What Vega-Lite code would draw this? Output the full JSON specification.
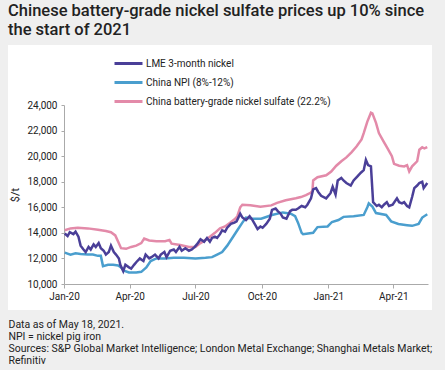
{
  "$schema": "https://vega.github.io/schema/vega-lite/v6.json",
  "width": 424,
  "height": 265,
  "autosize": "none",
  "padding": {"left": 8, "top": 45, "right": 13, "bottom": 60},
  "background": "#efefef",
  "view": {"fill": "white", "stroke": null},
  "config": {"font": "Roboto"},
  "title": {
    "text": ["Chinese battery-grade nickel sulfate prices up 10% since", "the start of 2021"],
    "anchor": "start",
    "frame": "group",
    "font": "Roboto",
    "fontSize": 16.5,
    "fontWeight": 500,
    "color": "#222222",
    "lineHeight": 19,
    "offset": 7
  },
  "datasets": {
    "lme": [
      {"date": "2020-01-02", "price": 13950}, {"date": "2020-01-06", "price": 13750}, {"date": "2020-01-09", "price": 14050},
      {"date": "2020-01-14", "price": 13900}, {"date": "2020-01-17", "price": 14100}, {"date": "2020-01-21", "price": 13700},
      {"date": "2020-01-24", "price": 13000}, {"date": "2020-01-28", "price": 12700}, {"date": "2020-01-31", "price": 12500},
      {"date": "2020-02-04", "price": 12900}, {"date": "2020-02-07", "price": 12700}, {"date": "2020-02-11", "price": 13100},
      {"date": "2020-02-14", "price": 12900}, {"date": "2020-02-18", "price": 13200}, {"date": "2020-02-21", "price": 12800},
      {"date": "2020-02-25", "price": 12600}, {"date": "2020-02-28", "price": 12300}, {"date": "2020-03-03", "price": 12500},
      {"date": "2020-03-06", "price": 13000}, {"date": "2020-03-10", "price": 12500}, {"date": "2020-03-13", "price": 12300},
      {"date": "2020-03-17", "price": 12000}, {"date": "2020-03-19", "price": 11500}, {"date": "2020-03-23", "price": 11000},
      {"date": "2020-03-26", "price": 11500}, {"date": "2020-03-31", "price": 11300}, {"date": "2020-04-03", "price": 11200},
      {"date": "2020-04-07", "price": 11500}, {"date": "2020-04-10", "price": 11700}, {"date": "2020-04-15", "price": 12000},
      {"date": "2020-04-20", "price": 11800}, {"date": "2020-04-23", "price": 12300}, {"date": "2020-04-28", "price": 12000},
      {"date": "2020-05-01", "price": 12100}, {"date": "2020-05-06", "price": 12300}, {"date": "2020-05-11", "price": 12000},
      {"date": "2020-05-14", "price": 12300}, {"date": "2020-05-19", "price": 12500}, {"date": "2020-05-22", "price": 12100},
      {"date": "2020-05-27", "price": 12600}, {"date": "2020-06-01", "price": 12700}, {"date": "2020-06-04", "price": 12500},
      {"date": "2020-06-09", "price": 12900}, {"date": "2020-06-12", "price": 12600}, {"date": "2020-06-17", "price": 12800},
      {"date": "2020-06-22", "price": 12600}, {"date": "2020-06-26", "price": 12700}, {"date": "2020-06-30", "price": 12900},
      {"date": "2020-07-03", "price": 13100}, {"date": "2020-07-08", "price": 13500}, {"date": "2020-07-13", "price": 13300},
      {"date": "2020-07-17", "price": 13600}, {"date": "2020-07-21", "price": 13300}, {"date": "2020-07-24", "price": 13600},
      {"date": "2020-07-28", "price": 13700}, {"date": "2020-07-31", "price": 13600}, {"date": "2020-08-04", "price": 13900},
      {"date": "2020-08-07", "price": 14200}, {"date": "2020-08-11", "price": 14100}, {"date": "2020-08-14", "price": 14400},
      {"date": "2020-08-19", "price": 14700}, {"date": "2020-08-24", "price": 14800}, {"date": "2020-08-27", "price": 14900},
      {"date": "2020-09-01", "price": 15500}, {"date": "2020-09-04", "price": 15200}, {"date": "2020-09-09", "price": 15000},
      {"date": "2020-09-14", "price": 15300}, {"date": "2020-09-18", "price": 15000}, {"date": "2020-09-22", "price": 14600},
      {"date": "2020-09-25", "price": 14300}, {"date": "2020-09-29", "price": 14500}, {"date": "2020-10-02", "price": 14400},
      {"date": "2020-10-07", "price": 14700}, {"date": "2020-10-12", "price": 15100}, {"date": "2020-10-15", "price": 15800},
      {"date": "2020-10-20", "price": 15900}, {"date": "2020-10-23", "price": 15700}, {"date": "2020-10-27", "price": 15500},
      {"date": "2020-10-30", "price": 15200}, {"date": "2020-11-04", "price": 15100}, {"date": "2020-11-09", "price": 15700},
      {"date": "2020-11-12", "price": 15800}, {"date": "2020-11-17", "price": 15800}, {"date": "2020-11-20", "price": 15900},
      {"date": "2020-11-25", "price": 16100}, {"date": "2020-11-30", "price": 16000}, {"date": "2020-12-03", "price": 16200},
      {"date": "2020-12-08", "price": 16700}, {"date": "2020-12-11", "price": 17400}, {"date": "2020-12-15", "price": 17500},
      {"date": "2020-12-18", "price": 17200}, {"date": "2020-12-22", "price": 16900}, {"date": "2020-12-29", "price": 16700},
      {"date": "2021-01-04", "price": 17100}, {"date": "2021-01-07", "price": 17600}, {"date": "2021-01-11", "price": 17000},
      {"date": "2021-01-14", "price": 18100}, {"date": "2021-01-19", "price": 18300}, {"date": "2021-01-22", "price": 18100},
      {"date": "2021-01-26", "price": 17900}, {"date": "2021-02-01", "price": 17700}, {"date": "2021-02-05", "price": 18100},
      {"date": "2021-02-10", "price": 18400}, {"date": "2021-02-15", "price": 18700}, {"date": "2021-02-19", "price": 18900},
      {"date": "2021-02-22", "price": 19700}, {"date": "2021-02-25", "price": 19300}, {"date": "2021-03-01", "price": 19200},
      {"date": "2021-03-04", "price": 16400}, {"date": "2021-03-09", "price": 16100}, {"date": "2021-03-12", "price": 16200},
      {"date": "2021-03-16", "price": 16000}, {"date": "2021-03-19", "price": 16200}, {"date": "2021-03-23", "price": 16400},
      {"date": "2021-03-26", "price": 16100}, {"date": "2021-03-31", "price": 16200}, {"date": "2021-04-06", "price": 16700},
      {"date": "2021-04-09", "price": 16400}, {"date": "2021-04-13", "price": 16300}, {"date": "2021-04-16", "price": 16400},
      {"date": "2021-04-20", "price": 16100}, {"date": "2021-04-23", "price": 16000}, {"date": "2021-04-27", "price": 16800},
      {"date": "2021-04-30", "price": 17500}, {"date": "2021-05-04", "price": 17700}, {"date": "2021-05-07", "price": 17900},
      {"date": "2021-05-11", "price": 18000}, {"date": "2021-05-13", "price": 17500}, {"date": "2021-05-18", "price": 17900}
    ],
    "npi": [
      {"date": "2020-01-02", "price": 12450}, {"date": "2020-01-10", "price": 12300}, {"date": "2020-01-17", "price": 12400},
      {"date": "2020-01-24", "price": 12350}, {"date": "2020-02-03", "price": 12300}, {"date": "2020-02-10", "price": 12300},
      {"date": "2020-02-17", "price": 12200}, {"date": "2020-02-21", "price": 12200}, {"date": "2020-02-24", "price": 11400},
      {"date": "2020-03-02", "price": 11500}, {"date": "2020-03-09", "price": 11500}, {"date": "2020-03-16", "price": 11450},
      {"date": "2020-03-20", "price": 11300}, {"date": "2020-03-24", "price": 11050}, {"date": "2020-03-31", "price": 10900},
      {"date": "2020-04-10", "price": 10900}, {"date": "2020-04-17", "price": 10950}, {"date": "2020-04-24", "price": 11300},
      {"date": "2020-04-30", "price": 11800}, {"date": "2020-05-08", "price": 12000}, {"date": "2020-05-20", "price": 12000},
      {"date": "2020-06-01", "price": 12050}, {"date": "2020-06-15", "price": 12050}, {"date": "2020-07-01", "price": 12000},
      {"date": "2020-07-15", "price": 12050}, {"date": "2020-07-24", "price": 12100}, {"date": "2020-07-31", "price": 12300},
      {"date": "2020-08-07", "price": 12500}, {"date": "2020-08-14", "price": 13000}, {"date": "2020-08-21", "price": 13600},
      {"date": "2020-08-28", "price": 14200}, {"date": "2020-09-04", "price": 14800}, {"date": "2020-09-09", "price": 15200},
      {"date": "2020-09-18", "price": 15100}, {"date": "2020-09-30", "price": 15100}, {"date": "2020-10-15", "price": 15400},
      {"date": "2020-10-30", "price": 15600}, {"date": "2020-11-10", "price": 15500}, {"date": "2020-11-16", "price": 15300},
      {"date": "2020-11-20", "price": 14800}, {"date": "2020-11-25", "price": 14000}, {"date": "2020-11-27", "price": 13900},
      {"date": "2020-12-04", "price": 13950}, {"date": "2020-12-11", "price": 14000}, {"date": "2020-12-17", "price": 14450},
      {"date": "2020-12-31", "price": 14500}, {"date": "2021-01-06", "price": 14850}, {"date": "2021-01-15", "price": 15000},
      {"date": "2021-01-22", "price": 15250}, {"date": "2021-02-05", "price": 15300}, {"date": "2021-02-19", "price": 15400},
      {"date": "2021-02-24", "price": 16000}, {"date": "2021-02-26", "price": 16300}, {"date": "2021-03-03", "price": 16050},
      {"date": "2021-03-08", "price": 15550}, {"date": "2021-03-22", "price": 15400}, {"date": "2021-03-29", "price": 14900},
      {"date": "2021-04-08", "price": 14700}, {"date": "2021-04-20", "price": 14600}, {"date": "2021-04-27", "price": 14550},
      {"date": "2021-05-06", "price": 14700}, {"date": "2021-05-11", "price": 15200}, {"date": "2021-05-18", "price": 15450}
    ],
    "sulfate": [
      {"date": "2020-01-02", "price": 14200}, {"date": "2020-01-10", "price": 14350}, {"date": "2020-01-20", "price": 14400},
      {"date": "2020-02-03", "price": 14350}, {"date": "2020-02-17", "price": 14250}, {"date": "2020-02-28", "price": 14150},
      {"date": "2020-03-06", "price": 14050}, {"date": "2020-03-12", "price": 13800}, {"date": "2020-03-16", "price": 13300},
      {"date": "2020-03-20", "price": 12800}, {"date": "2020-03-27", "price": 12750}, {"date": "2020-04-03", "price": 12900},
      {"date": "2020-04-10", "price": 13000}, {"date": "2020-04-17", "price": 13200}, {"date": "2020-04-21", "price": 13550},
      {"date": "2020-04-28", "price": 13400}, {"date": "2020-05-08", "price": 13350}, {"date": "2020-05-20", "price": 13350},
      {"date": "2020-05-26", "price": 13450}, {"date": "2020-05-29", "price": 13150}, {"date": "2020-06-10", "price": 13050},
      {"date": "2020-06-22", "price": 12900}, {"date": "2020-07-01", "price": 12900}, {"date": "2020-07-08", "price": 13200},
      {"date": "2020-07-15", "price": 13450}, {"date": "2020-07-21", "price": 13700}, {"date": "2020-07-28", "price": 14000},
      {"date": "2020-08-04", "price": 14350}, {"date": "2020-08-11", "price": 14500}, {"date": "2020-08-18", "price": 14800},
      {"date": "2020-08-25", "price": 15100}, {"date": "2020-08-28", "price": 15300}, {"date": "2020-09-01", "price": 16000},
      {"date": "2020-09-04", "price": 16200}, {"date": "2020-09-15", "price": 16150}, {"date": "2020-09-29", "price": 16050},
      {"date": "2020-10-14", "price": 16150}, {"date": "2020-10-22", "price": 16350}, {"date": "2020-11-03", "price": 16550},
      {"date": "2020-11-17", "price": 16700}, {"date": "2020-11-24", "price": 16800}, {"date": "2020-12-01", "price": 16950},
      {"date": "2020-12-08", "price": 17150}, {"date": "2020-12-10", "price": 17300}, {"date": "2020-12-11", "price": 18100},
      {"date": "2020-12-17", "price": 18350}, {"date": "2020-12-29", "price": 18500}, {"date": "2021-01-05", "price": 18800},
      {"date": "2021-01-12", "price": 19250}, {"date": "2021-01-19", "price": 19600}, {"date": "2021-01-26", "price": 19900},
      {"date": "2021-02-02", "price": 20300}, {"date": "2021-02-09", "price": 20750}, {"date": "2021-02-16", "price": 21300},
      {"date": "2021-02-19", "price": 21800}, {"date": "2021-02-24", "price": 22700}, {"date": "2021-03-01", "price": 23400},
      {"date": "2021-03-03", "price": 23350}, {"date": "2021-03-08", "price": 22600}, {"date": "2021-03-12", "price": 21800},
      {"date": "2021-03-18", "price": 21200}, {"date": "2021-03-24", "price": 20600}, {"date": "2021-03-30", "price": 20000},
      {"date": "2021-04-02", "price": 19400}, {"date": "2021-04-09", "price": 19250}, {"date": "2021-04-16", "price": 19200},
      {"date": "2021-04-20", "price": 19300}, {"date": "2021-04-23", "price": 18800}, {"date": "2021-04-27", "price": 19200},
      {"date": "2021-05-04", "price": 19600}, {"date": "2021-05-07", "price": 20500}, {"date": "2021-05-11", "price": 20700},
      {"date": "2021-05-14", "price": 20600}, {"date": "2021-05-18", "price": 20700}
    ]
  },
  "encoding": {
    "x": {
      "field": "date",
      "type": "temporal",
      "scale": {
        "domain": [{"year": 2020, "month": 1, "date": 1}, {"year": 2021, "month": 5, "date": 19}],
        "range": [56, 420]
      },
      "axis": {
        "offset": -26,
        "values": [
          {"year": 2020, "month": 1, "date": 1}, {"year": 2020, "month": 4, "date": 1},
          {"year": 2020, "month": 7, "date": 1}, {"year": 2020, "month": 10, "date": 1},
          {"year": 2021, "month": 1, "date": 1}, {"year": 2021, "month": 4, "date": 1}
        ],
        "format": "%b-%y",
        "grid": false,
        "domainColor": "#aaaaaa",
        "tickColor": "#aaaaaa",
        "tickSize": 4,
        "labelFontSize": 10,
        "labelColor": "#222222",
        "labelPadding": 3,
        "labelFlush": false,
        "title": [
          "Data as of May 18, 2021.",
          "NPI = nickel pig iron",
          "Sources: S&P Global Market Intelligence; London Metal Exchange; Shanghai Metals Market;",
          "Refinitiv"
        ],
        "titleFontSize": 10.5,
        "titleFontWeight": "normal",
        "titleColor": "#222222",
        "titleAnchor": "start",
        "titleAlign": "left",
        "titleBaseline": "top",
        "titleLineHeight": 12,
        "titleX": 0,
        "titleY": 35
      }
    },
    "y": {
      "field": "price",
      "type": "quantitative",
      "scale": {"domain": [10000, 24000], "range": [239, 60], "zero": false},
      "axis": {
        "offset": -56,
        "values": [10000, 12000, 14000, 16000, 18000, 20000, 22000, 24000],
        "format": ",d",
        "grid": false,
        "domainColor": "#aaaaaa",
        "tickColor": "#aaaaaa",
        "tickSize": 3,
        "labelFontSize": 10,
        "labelColor": "#222222",
        "labelPadding": 4,
        "title": "$/t",
        "titleFontSize": 11,
        "titleFontWeight": "normal",
        "titleColor": "#222222",
        "titlePadding": 6
      }
    },
    "color": {
      "scale": {
        "domain": ["LME 3-month nickel", "China NPI (8%-12%)", "China battery-grade nickel sulfate (22.2%)"],
        "range": ["#4a3f98", "#4a9ece", "#e38aa9"]
      },
      "legend": {
        "orient": "none",
        "legendX": 105,
        "legendY": 10,
        "title": null,
        "symbolType": "M-1,0H3",
        "symbolSize": 196,
        "symbolStrokeWidth": 3,
        "labelFontSize": 10,
        "labelColor": "#222222",
        "labelOffset": 16,
        "labelLimit": 0,
        "rowPadding": 4,
        "padding": 0
      }
    }
  },
  "layer": [
    {
      "data": {"name": "npi"},
      "mark": {"type": "line", "strokeWidth": 2.5},
      "encoding": {"color": {"datum": "China NPI (8%-12%)"}}
    },
    {
      "data": {"name": "sulfate"},
      "mark": {"type": "line", "strokeWidth": 2.5},
      "encoding": {"color": {"datum": "China battery-grade nickel sulfate (22.2%)"}}
    },
    {
      "data": {"name": "lme"},
      "mark": {"type": "line", "strokeWidth": 2.5},
      "encoding": {"color": {"datum": "LME 3-month nickel"}}
    }
  ]
}
